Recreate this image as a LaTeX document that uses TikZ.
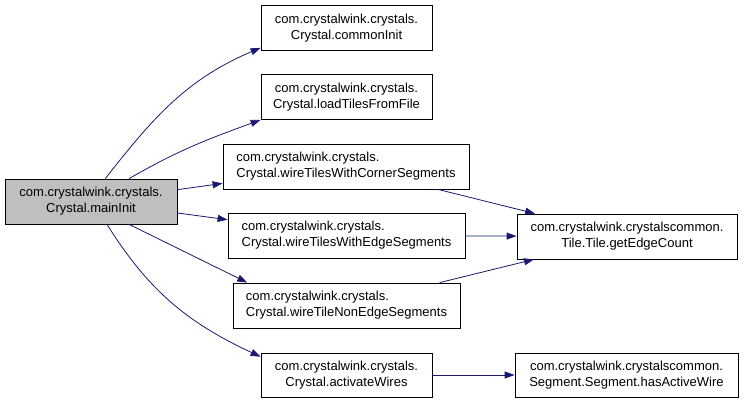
\documentclass[tikz,border=0pt]{standalone}
\usepackage{fontspec}
\setmainfont{Liberation Sans}
\usetikzlibrary{arrows.meta}
\definecolor{edgeblue}{HTML}{191970}
\definecolor{rootgray}{HTML}{BFBFBF}
\begin{document}
\begin{tikzpicture}[x=1pt,y=1pt,
  fn/.style={draw=black,line width=0.8pt,fill=white,inner sep=0pt,
    minimum height=45pt,font=\fontsize{13}{16}\selectfont,align=center},
  fnl/.style={fn,align=left},
  call/.style={draw=edgeblue,line width=0.8pt,
    -{Triangle[length=10pt,width=7pt,fill=edgeblue]}}]
  \useasboundingbox (0,0) rectangle (744,403);

  % the caller
  \node[fn,fill=rootgray,minimum width=172pt] (main) at (91,201.5)
    {com.crystalwink.crystals.\\Crystal.mainInit};

  % called in Crystal
  \node[fn,minimum width=171pt] (common) at (346.5,375)
    {com.crystalwink.crystals.\\Crystal.commonInit};
  \node[fn,minimum width=171pt] (load) at (346.5,306)
    {com.crystalwink.crystals.\\Crystal.loadTilesFromFile};
  \node[fnl,minimum width=246pt] (corner) at (346,236.5)
    {com.crystalwink.crystals.\\Crystal.wireTilesWithCornerSegments};
  \node[fnl,minimum width=237pt] (edge) at (346.5,167.5)
    {com.crystalwink.crystals.\\Crystal.wireTilesWithEdgeSegments};
  \node[fnl,minimum width=227pt] (nonedge) at (346.5,97.5)
    {com.crystalwink.crystals.\\Crystal.wireTileNonEdgeSegments};
  \node[fn,minimum width=171pt,minimum height=44pt] (activate) at (346.5,28)
    {com.crystalwink.crystals.\\Crystal.activateWires};

  % called in crystalscommon
  \node[fn,minimum width=220pt] (getedge) at (627,166.5)
    {com.crystalwink.crystalscommon.\\Tile.Tile.getEdgeCount};
  \node[fn,minimum width=223pt,minimum height=44pt] (hasactive) at (626.5,28)
    {com.crystalwink.crystalscommon.\\Segment.Segment.hasActiveWire};

  % calls from mainInit
  \draw[call] (main.58) to[out=52,in=203] (common.193);
  \draw[call] (main.31) to[out=30,in=200] (load.south west);
  \draw[call] (main) -- (corner);
  \draw[call] (main) -- (edge);
  \draw[call] (main.-31) -- (nonedge.167);
  \draw[call] (main.-55) to[out=-58,in=155] (activate.168);

  % calls further on
  \draw[call] (corner) -- (getedge);
  \draw[call] (edge) -- (getedge);
  \draw[call] (nonedge) -- (getedge);
  \draw[call] (activate) -- (hasactive);
\end{tikzpicture}
\end{document}
